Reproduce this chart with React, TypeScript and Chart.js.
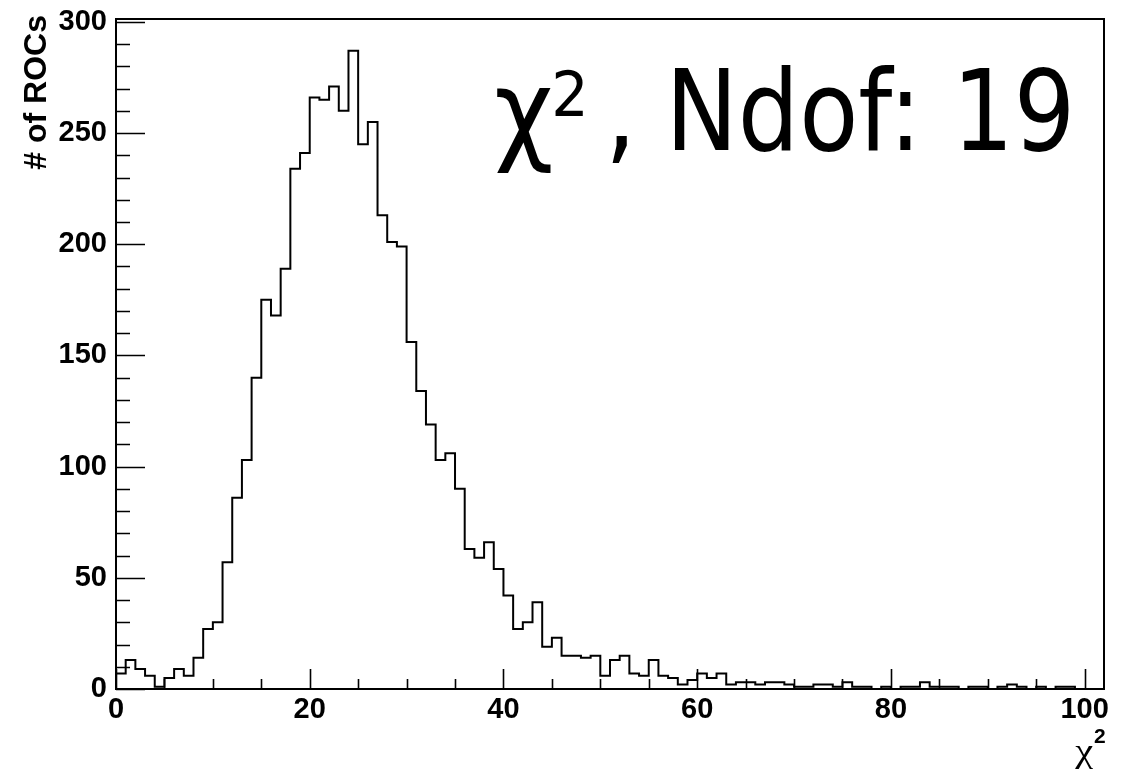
import React, { useEffect, useRef } from 'react';
import { Chart, registerables } from 'chart.js';

Chart.register(...registerables);

// ---- data ----
const binWidth = 1;
const xMin = 0;
const xMax = 102;
const yMin = 0;
const yMax = 301.3;
const xTickValues = [0, 20, 40, 60, 80, 100];
const yTickValues = [0, 50, 100, 150, 200, 250, 300];
const xMinorStep = 5;
const yMinorStep = 10;

const binCounts = [
  7, 13, 9, 6, 1, 5, 9, 6, 14, 27,
  30, 57, 86, 103, 140, 175, 168, 189, 234, 241,
  266, 265, 271, 260, 287, 245, 255, 213, 201, 199,
  156, 134, 119, 103, 106, 90, 63, 59, 66, 54,
  42, 27, 30, 39, 19, 23, 15, 15, 14, 15,
  6, 13, 15, 7, 6, 13, 6, 5, 2, 4,
  7, 5, 7, 2, 3, 3, 2, 3, 3, 2,
  1, 1, 2, 2, 1, 3, 1, 1, 0, 1,
  0, 1, 1, 3, 1, 1, 1, 0, 1, 1,
  0, 1, 2, 1, 0, 1, 0, 1, 1, 0,
  0, 0,
];

const yAxisTitle = '# of ROCs';
const xAxisTitleMain = 'χ';
const xAxisTitleSup = '2';
const annotationParts = ['χ', '2', ',', 'Ndof: 19'];

function fitText(
  ctx: CanvasRenderingContext2D,
  text: string,
  font: string,
  left: number,
  right: number,
  baseline: number
) {
  ctx.save();
  ctx.font = font;
  ctx.textAlign = 'left';
  ctx.textBaseline = 'alphabetic';
  const m = ctx.measureText(text);
  const inkW = m.actualBoundingBoxLeft + m.actualBoundingBoxRight;
  const sx = inkW > 0 ? (right - left) / inkW : 1;
  ctx.translate(left, baseline);
  ctx.scale(sx, 1);
  ctx.fillStyle = '#000';
  ctx.fillText(text, m.actualBoundingBoxLeft, 0);
  ctx.restore();
}

const rootStylePlugin = {
  id: 'rootStyle',
  afterDraw(chart: any) {
    const { ctx, chartArea } = chart;
    const xs = chart.scales.x;
    const ys = chart.scales.y;
    const majX = xTickValues[1] - xTickValues[0];
    const majY = yTickValues[1] - yTickValues[0];
    ctx.save();
    ctx.strokeStyle = '#000';
    ctx.lineWidth = 2;
    ctx.strokeRect(chartArea.left, chartArea.top, chartArea.right - chartArea.left, chartArea.bottom - chartArea.top);

    // x ticks
    ctx.beginPath();
    for (let v = xMin; v <= xMax + 1e-9; v += xMinorStep) {
      const px = Math.round(xs.getPixelForValue(v)) + 0.5;
      const len = v % majX === 0 ? 20 : 10;
      ctx.moveTo(px, chartArea.bottom);
      ctx.lineTo(px, chartArea.bottom - len);
    }
    ctx.lineWidth = 1.6;
    ctx.stroke();

    // y ticks
    ctx.beginPath();
    for (let v = yMin; v <= yMax + 1e-9; v += yMinorStep) {
      const py = Math.round(ys.getPixelForValue(v)) + 0.5;
      const len = v % majY === 0 ? 29 : 14;
      ctx.moveTo(chartArea.left, py);
      ctx.lineTo(chartArea.left + len, py);
    }
    ctx.stroke();

    // y title
    ctx.fillStyle = '#000';
    ctx.font = 'bold 32px "Liberation Sans", Arial, sans-serif';
    ctx.save();
    ctx.translate(37, 15);
    ctx.rotate(-Math.PI / 2);
    ctx.textAlign = 'right';
    ctx.textBaseline = 'middle';
    ctx.fillText(yAxisTitle, 0, 0);
    ctx.restore();

    // x title
    fitText(ctx, xAxisTitleMain, '34px "Liberation Serif", serif', 1074, 1093, 762);
    fitText(ctx, xAxisTitleSup, 'bold 21px "Liberation Sans", Arial, sans-serif', 1094, 1105, 743);

    // annotation
    fitText(ctx, annotationParts[0], '112px "DejaVu Sans", sans-serif', 497, 551, 150);
    fitText(ctx, annotationParts[1], '63px "DejaVu Sans", sans-serif', 555, 583, 116);
    fitText(ctx, annotationParts[2], '112px "DejaVu Sans", sans-serif', 612, 627, 150);
    fitText(ctx, annotationParts[3], '112px "DejaVu Sans", sans-serif', 675, 1069, 150);
    ctx.restore();
  },
};

export default function App() {
  const canvasRef = useRef<HTMLCanvasElement | null>(null);

  useEffect(() => {
    const canvas = canvasRef.current;
    if (!canvas) return;
    const points: { x: number; y: number }[] = [{ x: xMin, y: 0 }];
    binCounts.forEach((c, i) => points.push({ x: xMin + i * binWidth, y: c }));
    points.push({ x: xMin + binCounts.length * binWidth, y: 0 });

    const tickFont = { family: '"Liberation Sans", Arial, sans-serif', size: 29, weight: 'bold' as const };

    const chart = new Chart(canvas, {
      type: 'line',
      data: {
        datasets: [
          {
            data: points,
            stepped: 'before',
            borderColor: '#000',
            borderWidth: 2,
            pointRadius: 0,
            fill: false,
            tension: 0,
          },
        ],
      },
      options: {
        animation: false,
        responsive: false,
        devicePixelRatio: 1,
        layout: { padding: { top: 19, right: 20, left: 0, bottom: 0 } },
        plugins: { legend: { display: false }, tooltip: { enabled: false } },
        scales: {
          x: {
            type: 'linear',
            min: xMin,
            max: xMax,
            grid: { display: false },
            border: { display: false },
            ticks: {
              color: '#000',
              font: tickFont,
              padding: -4,
              maxRotation: 0,
              autoSkip: false,
            },
            afterBuildTicks: (s: any) => {
              s.ticks = xTickValues.map((v) => ({ value: v }));
            },
            afterFit: (s: any) => {
              s.height = 80;
            },
          },
          y: {
            type: 'linear',
            min: yMin,
            max: yMax,
            grid: { display: false },
            border: { display: false },
            ticks: {
              color: '#000',
              font: tickFont,
              padding: 1,
            },
            afterBuildTicks: (s: any) => {
              s.ticks = yTickValues.map((v) => ({ value: v }));
            },
            afterFit: (s: any) => {
              s.width = 116;
            },
          },
        },
      },
      plugins: [rootStylePlugin],
    });
    return () => chart.destroy();
  }, []);

  return (
    <div style={{ position: 'fixed', left: 0, top: 0, width: 1124, height: 769, background: '#fff' }}>
      <canvas ref={canvasRef} width={1124} height={769} style={{ display: 'block' }} />
    </div>
  );
}
